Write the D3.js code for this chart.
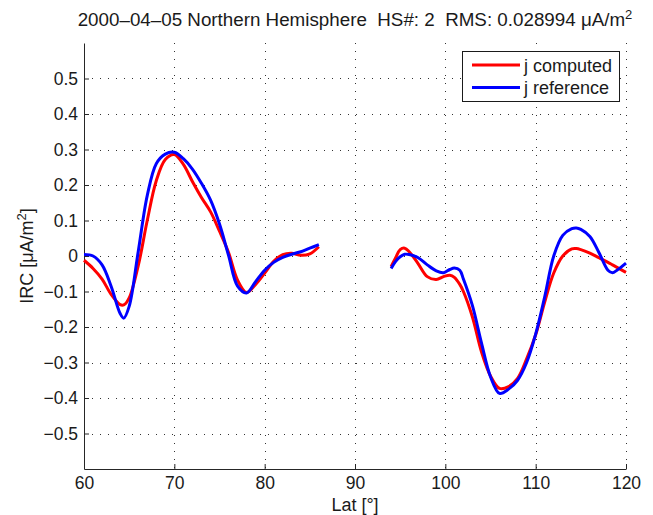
<!DOCTYPE html>
<html>
<head>
<meta charset="utf-8">
<script src="https://cdn.jsdelivr.net/npm/d3@7"></script>
<style>
body { margin: 0; background: #fff; }
text { font-family: "Liberation Sans", Arial, Helvetica, sans-serif; fill: #1a1a1a; }
</style>
</head>
<body>
<script>
// left segment (lat 60-86)
var latA = [60, 61, 62, 63, 64, 64.4, 65, 66, 67, 68, 69, 70, 71, 72, 73, 74, 75, 76, 77, 78, 79, 80, 81, 82, 83, 84, 85, 86];
var compA = [-0.012, -0.035, -0.065, -0.108, -0.137, -0.138, -0.118, -0.028, 0.10, 0.212, 0.272, 0.286, 0.258, 0.21, 0.165, 0.125, 0.07, 0.01, -0.068, -0.103, -0.08, -0.048, -0.015, 0.004, 0.008, 0.002, 0.006, 0.026];
var refA = [0.004, 0.0, -0.025, -0.085, -0.162, -0.175, -0.142, 0.012, 0.17, 0.26, 0.287, 0.292, 0.274, 0.245, 0.205, 0.158, 0.09, 0.002, -0.085, -0.104, -0.072, -0.04, -0.018, -0.004, 0.005, 0.012, 0.022, 0.032];

// right segment (lat 94-120)
var latB = [94, 94.5, 95, 95.5, 96, 97, 98, 99, 99.8, 100.5, 101, 101.6, 102, 103, 104, 105, 106, 107, 108, 109, 110, 111, 112, 113, 114, 114.5, 115, 116, 117, 118, 118.5, 119, 120];
var compB = [-0.03, -0.005, 0.018, 0.022, 0.012, -0.022, -0.058, -0.066, -0.058, -0.054, -0.06, -0.08, -0.1, -0.172, -0.27, -0.338, -0.373, -0.368, -0.345, -0.29, -0.222, -0.13, -0.048, 0.0, 0.02, 0.021, 0.018, 0.008, -0.005, -0.018, -0.025, -0.032, -0.046];
var refB = [-0.035, -0.015, -0.002, 0.005, 0.004, -0.005, -0.025, -0.042, -0.047, -0.038, -0.034, -0.04, -0.065, -0.14, -0.245, -0.34, -0.387, -0.375, -0.35, -0.3, -0.22, -0.115, 0.0, 0.058, 0.077, 0.079, 0.075, 0.055, 0.01, -0.04, -0.047, -0.04, -0.02];

var xTicks = [60, 70, 80, 90, 100, 110, 120];
var yTicks = [-0.5, -0.4, -0.3, -0.2, -0.1, 0, 0.1, 0.2, 0.3, 0.4, 0.5];
var seriesNames = ["j computed", "j reference"];
var seriesColors = ["#ff0000", "#0000ff"];

var W = 653, H = 515;
var margin = {top: 43, right: 27, bottom: 46, left: 84},
	width = W - margin.left - margin.right,
	height = H - margin.top - margin.bottom;

var x = d3.scaleLinear().domain([60, 120]).range([0, width]);
var y = d3.scaleLinear().domain([-0.6, 0.6]).range([height, 0]);

var svg = d3.select("body").append("svg")
	.attr("width", W)
	.attr("height", H);

var g = svg.append("g")
	.attr("transform", "translate(" + margin.left + "," + margin.top + ")");

var fmt = function(d) { return d3.format(".1~f")(d).replace("-", "\u2013"); };

// grid
g.selectAll(".gx").data(xTicks.filter(function(d) { return d > 60; }))
	.enter().append("line")
	.attr("x1", function(d) { return Math.round(x(d)) + 0.5; })
	.attr("x2", function(d) { return Math.round(x(d)) + 0.5; })
	.attr("y1", 0).attr("y2", height)
	.attr("stroke", "#333").attr("stroke-dasharray", "1,7");
g.selectAll(".gy").data(yTicks)
	.enter().append("line")
	.attr("y1", function(d) { return Math.round(y(d)) + 0.5; })
	.attr("y2", function(d) { return Math.round(y(d)) + 0.5; })
	.attr("x1", 0).attr("x2", width)
	.attr("stroke", "#333").attr("stroke-dasharray", "1,7");

// axes
var xAxis = g.append("g")
	.attr("transform", "translate(0," + height + ")")
	.call(d3.axisBottom(x).tickValues(xTicks).tickSizeInner(-5).tickSizeOuter(0).tickPadding(8).tickFormat(d3.format("d")));
var yAxis = g.append("g")
	.call(d3.axisLeft(y).tickValues(yTicks).tickSizeInner(-5).tickSizeOuter(0).tickPadding(6).tickFormat(fmt));

[xAxis, yAxis].forEach(function(a) {
	a.select(".domain").attr("stroke", "#262626");
	a.selectAll(".tick line").attr("stroke", "#262626");
	a.selectAll("text").style("font-size", "17.5px").attr("fill", "#1a1a1a");
});
xAxis.selectAll("text").attr("dy", "0.71em");

// lines
var line = d3.line()
	.x(function(d) { return x(d[0]); })
	.y(function(d) { return y(d[1]); })
	.curve(d3.curveCatmullRom.alpha(0.5));

var segments = [
	{lat: latA, vals: [compA, refA]},
	{lat: latB, vals: [compB, refB]}
];
[0, 1].forEach(function(s) {
	segments.forEach(function(seg) {
		var pts = seg.lat.map(function(l, i) { return [l, seg.vals[s][i]]; });
		g.append("path")
			.attr("d", line(pts))
			.attr("fill", "none")
			.attr("stroke", seriesColors[s])
			.attr("stroke-width", 3)
			.attr("stroke-linejoin", "round");
	});
});

// legend
var lg = svg.append("g").attr("transform", "translate(462,51)");
lg.append("rect")
	.attr("x", 0.5).attr("y", 0.5)
	.attr("width", 157).attr("height", 50)
	.attr("fill", "#fff").attr("stroke", "#1a1a1a");
seriesNames.forEach(function(n, i) {
	var yy = 14 + i * 22.5;
	lg.append("line")
		.attr("x1", 10).attr("x2", 58)
		.attr("y1", yy).attr("y2", yy)
		.attr("stroke", seriesColors[i]).attr("stroke-width", 3);
	lg.append("text")
		.attr("x", 62).attr("y", yy + 6.5)
		.style("font-size", "18px")
		.text(n);
});

// title
var title = svg.append("text")
	.attr("x", margin.left + width / 2)
	.attr("y", 26)
	.attr("text-anchor", "middle")
	.style("font-size", "18.8px")
	.attr("xml:space", "preserve");
title.append("tspan").text("2000\u201304\u201305 Northern Hemisphere  HS#: 2  RMS: 0.028994 \u03bcA/m");
title.append("tspan").attr("dy", -7).style("font-size", "13px").text("2");

// axis labels
svg.append("text")
	.attr("x", margin.left + width / 2)
	.attr("y", 511)
	.attr("text-anchor", "middle")
	.style("font-size", "18px")
	.text("Lat [\u00b0]");

var yl = svg.append("text")
	.attr("transform", "translate(33," + (margin.top + height / 2) + ") rotate(-90)")
	.attr("text-anchor", "middle")
	.style("font-size", "18px");
yl.append("tspan").text("IRC [\u03bcA/m");
yl.append("tspan").attr("dy", -7).style("font-size", "13px").text("2");
yl.append("tspan").attr("dy", 7).text("]");
</script>
</body>
</html>
